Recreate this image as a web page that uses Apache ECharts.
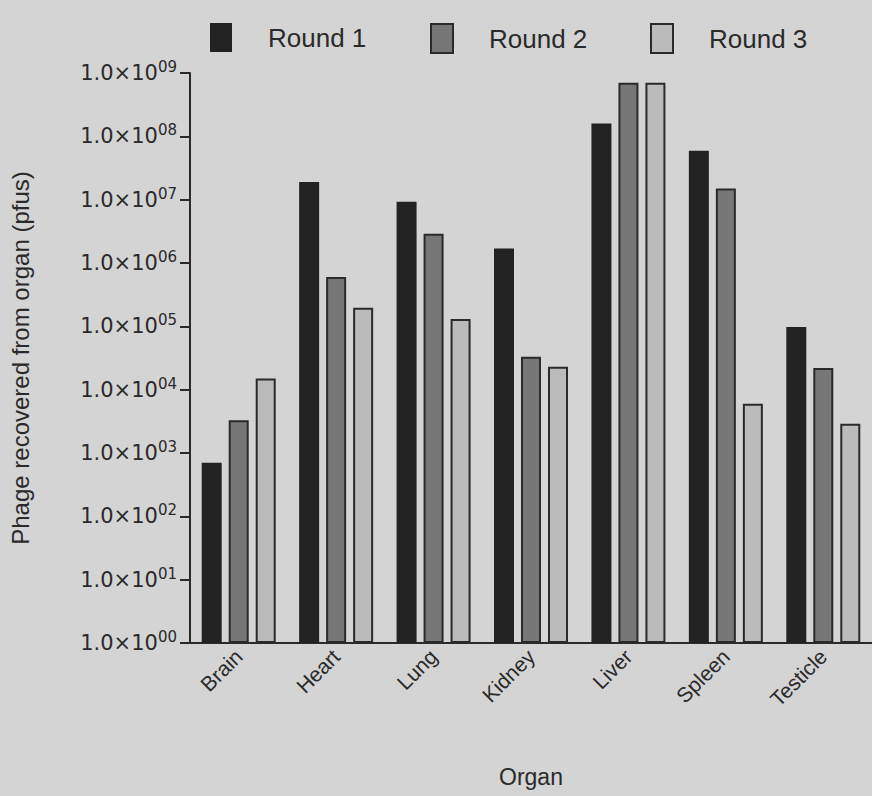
<!DOCTYPE html>
<html>
<head>
<meta charset="utf-8">
<script src="https://cdn.jsdelivr.net/npm/echarts@6/dist/echarts.min.js"></script>
<style>
html,body{margin:0;padding:0;background:#d4d4d4;}
#chart{width:872px;height:796px;}
</style>
</head>
<body>
<div id="chart"></div>
<script>
const organs = ['Brain', 'Heart', 'Lung', 'Kidney', 'Liver', 'Spleen', 'Testicle'];
const round1 = [700, 1.9e7, 9.3e6, 1.7e6, 1.6e8, 5.9e7, 9.8e4];
const round2 = [3.3e3, 6.0e5, 2.9e6, 3.3e4, 7.0e8, 1.5e7, 2.2e4];
const round3 = [1.5e4, 1.96e5, 1.3e5, 2.3e4, 7.0e8, 6.0e3, 2.9e3];
const seriesNames = ['Round 1', 'Round 2', 'Round 3'];
const yTickExponents = ['00', '01', '02', '03', '04', '05', '06', '07', '08', '09'];

const fillColors = ['#222222', '#777777', '#bbbbbb'];
const font = 'Liberation Sans';
const wideFont = 'DejaVu Sans';
const ink = '#2a2a2a';

const chart = echarts.init(document.getElementById('chart'), null, {renderer: 'svg'});
const seriesData = [round1, round2, round3];
chart.setOption({
  backgroundColor: '#d4d4d4',
  animation: false,
  textStyle: {fontFamily: font, color: ink},
  legend: seriesNames.map((n, i) => ({
    data: [n],
    left: 205 + i * 220,
    top: 18,
    icon: 'rect',
    itemWidth: 22,
    itemHeight: 29,
    textStyle: {fontFamily: font, fontSize: 26, color: ink, padding: [0, 0, 0, 31]}
  })),
  grid: {left: 190, top: 73, right: -6, bottom: 153, containLabel: false},
  xAxis: {
    type: 'category',
    data: organs,
    name: 'Organ',
    nameLocation: 'middle',
    nameGap: 122,
    nameTextStyle: {fontFamily: font, fontSize: 23, color: ink},
    axisLine: {lineStyle: {color: ink, width: 2}},
    axisTick: {alignWithLabel: true, length: 6, lineStyle: {color: ink, width: 2}},
    axisLabel: {rotate: 45, fontFamily: font, fontSize: 21, color: ink, margin: 10}
  },
  yAxis: {
    type: 'log',
    logBase: 10,
    min: 1,
    max: 1e9,
    splitNumber: 9,
    name: 'Phage recovered from organ (pfus)',
    nameLocation: 'middle',
    nameGap: 158,
    nameTextStyle: {fontFamily: font, fontSize: 24, color: ink},
    axisLine: {show: true, lineStyle: {color: ink, width: 2}},
    axisTick: {show: true, length: 10, lineStyle: {color: ink, width: 2}},
    splitLine: {show: false},
    axisLabel: {
      fontFamily: wideFont, fontSize: 21, color: ink, margin: 13,
      formatter: function (v) {
        const e = Math.round(Math.log10(v));
        return '1.0×10{sup|' + yTickExponents[e] + '}';
      },
      rich: {
        sup: {fontFamily: wideFont, fontSize: 15, color: ink, verticalAlign: 'bottom', padding: [0, 0, 12, 0]}
      }
    }
  },
  series: seriesNames.map((n, i) => ({
    name: n,
    type: 'bar',
    data: seriesData[i],
    barWidth: 20,
    barGap: '35%',
    itemStyle: {color: fillColors[i], borderColor: '#2a2a2a', borderWidth: i === 0 ? 0 : 2}
  }))
});
</script>
</body>
</html>
